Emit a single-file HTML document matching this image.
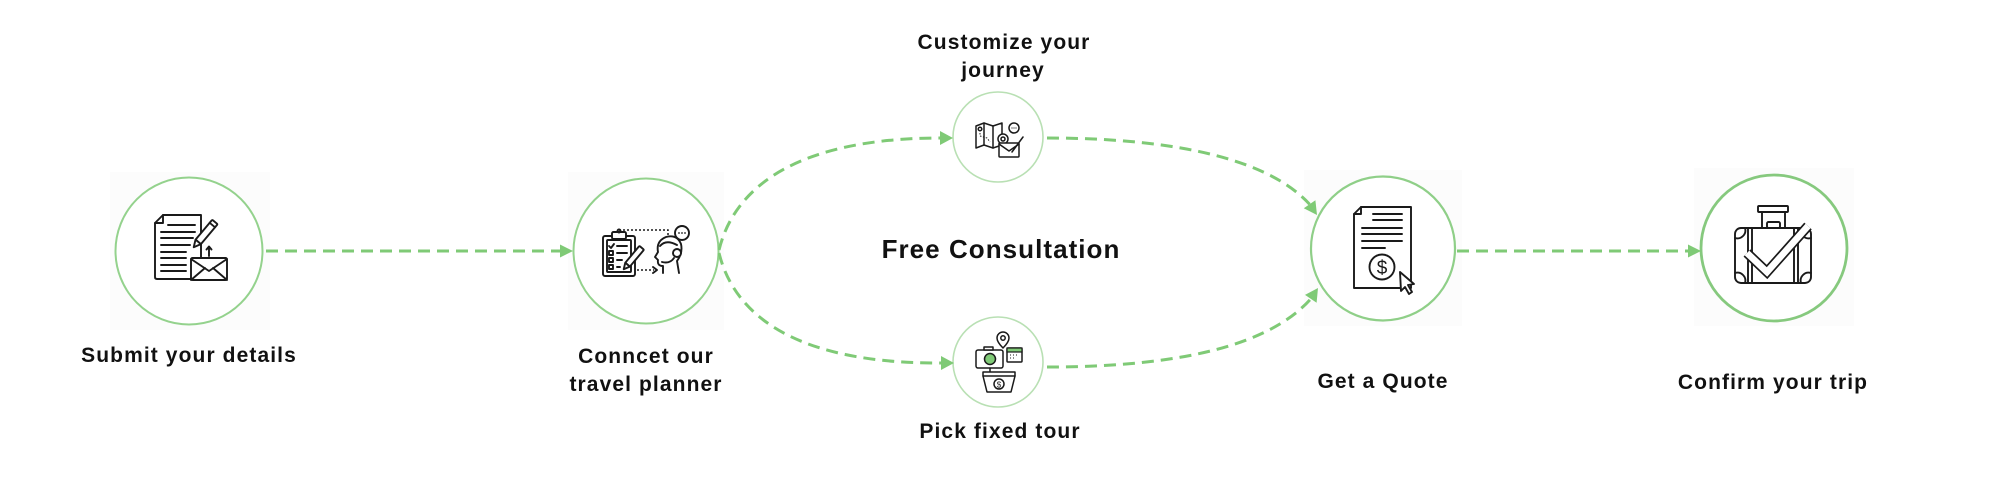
<!DOCTYPE html>
<html>
<head>
<meta charset="utf-8">
<style>
html,body{margin:0;padding:0;background:#fff;}
body{width:2000px;height:500px;overflow:hidden;}
svg{display:block;}
.lbl{font-family:"Liberation Sans",Arial,sans-serif;font-weight:bold;font-size:21px;letter-spacing:1.1px;fill:#111;}
.big{font-family:"Liberation Sans",Arial,sans-serif;font-weight:bold;font-size:26px;letter-spacing:1.05px;fill:#111;}
.ic{fill:none;stroke:#1a1a1a;stroke-width:1.9;stroke-linecap:round;stroke-linejoin:round;}
.icw{fill:#fff;stroke:#1a1a1a;stroke-width:1.9;stroke-linecap:round;stroke-linejoin:round;}
.sm .ic,.sm .icw{stroke-width:1.5;}
.dash{fill:none;stroke:#7fca76;stroke-width:3;stroke-dasharray:12 7;}
.ah{fill:#7fca76;}
</style>
</head>
<body>
<svg width="2000" height="500" viewBox="0 0 2000 500" xmlns="http://www.w3.org/2000/svg">
  <!-- faint backgrounds behind icons -->
  <rect x="110" y="172" width="160" height="158" fill="#fcfcfc"/>
  <rect x="568" y="172" width="156" height="158" fill="#fcfcfc"/>
  <rect x="1304" y="170" width="158" height="156" fill="#fcfcfc"/>
  <rect x="1694" y="168" width="160" height="158" fill="#fcfcfc"/>

  <!-- circles -->
  <circle cx="189" cy="251" r="73.5" fill="#fff" stroke="#94d28d" stroke-width="2"/>
  <circle cx="646" cy="251" r="72.5" fill="#fff" stroke="#94d28d" stroke-width="2"/>
  <circle cx="998" cy="137" r="45" fill="#fff" stroke="#b9e0b4" stroke-width="1.6"/>
  <circle cx="998" cy="362" r="45" fill="#fff" stroke="#b9e0b4" stroke-width="1.6"/>
  <circle cx="1383" cy="248.5" r="72" fill="#fff" stroke="#8fcf88" stroke-width="2.2"/>
  <circle cx="1774" cy="248" r="73" fill="#fff" stroke="#86c97e" stroke-width="2.8"/>

  <!-- straight arrows -->
  <line class="dash" x1="266" y1="251" x2="561" y2="251"/>
  <polygon class="ah" points="560,244.5 573,251 560,257.5"/>
  <line class="dash" x1="1457" y1="251" x2="1689" y2="251"/>
  <polygon class="ah" points="1688,244.5 1701,251 1688,257.5"/>

  <!-- curved arrows left -->
  <path class="dash" d="M719,250 C735,185 800,138 941,138"/>
  <polygon class="ah" points="940,131 953,138 940,145"/>
  <path class="dash" d="M719,253 C735,318 800,364 942,363"/>
  <polygon class="ah" points="941,356 954,363 941,370"/>

  <!-- curved arrows right -->
  <path class="dash" d="M1047,138 C1150,138 1262,152 1309.6,204.3"/>
  <polygon class="ah" points="1303.8,208.3 1317,215 1315.4,200.3"/>
  <path class="dash" d="M1047,367 C1150,367 1262,354 1310.8,298.8"/>
  <polygon class="ah" points="1316.6,302.7 1318,288 1305,294.9"/>

  <!-- labels -->
  <text class="lbl" x="189" y="362" text-anchor="middle">Submit your details</text>
  <text class="lbl" x="646" y="363" text-anchor="middle">Conncet our</text>
  <text class="lbl" x="646" y="391" text-anchor="middle">travel planner</text>
  <text class="lbl" x="1004" y="49" text-anchor="middle">Customize your</text>
  <text class="lbl" x="1003" y="77" text-anchor="middle">journey</text>
  <text class="lbl" x="1000" y="438" text-anchor="middle">Pick fixed tour</text>
  <text class="lbl" x="1383" y="388" text-anchor="middle">Get a Quote</text>
  <text class="lbl" x="1773" y="389" text-anchor="middle">Confirm your trip</text>
  <text class="big" x="1001" y="258" text-anchor="middle">Free Consultation</text>

  <!-- ICON 1: submit details -->
  <g>
    <path class="icw" d="M163,215 L201,215 L201,279 L157,279 Q155,279 155,277 L155,223 Z"/>
    <path class="ic" d="M155,223 L163,223 L163,215"/>
    <line class="ic" x1="168" y1="225" x2="195" y2="225"/>
    <line class="ic" x1="161" y1="232" x2="195" y2="232"/>
    <line class="ic" x1="161" y1="238" x2="193" y2="238"/>
    <line class="ic" x1="161" y1="245" x2="190" y2="245"/>
    <line class="ic" x1="161" y1="252" x2="186" y2="252"/>
    <line class="ic" x1="161" y1="258" x2="186" y2="258"/>
    <line class="ic" x1="161" y1="265" x2="186" y2="265"/>
    <line class="ic" x1="161" y1="271" x2="186" y2="271"/>
    <!-- pencil -->
    <g transform="rotate(40 204 235)">
      <rect class="icw" x="200.5" y="218" width="7" height="26" rx="1"/>
      <path class="icw" d="M200.5,244 L204,251 L207.5,244 Z"/>
      <line class="ic" x1="200.5" y1="222" x2="207.5" y2="222"/>
    </g>
    <!-- up arrow -->
    <line class="ic" x1="209" y1="256" x2="209" y2="247"/>
    <path class="ic" d="M206.5,249.5 L209,246.5 L211.5,249.5"/>
    <!-- envelope -->
    <rect class="icw" x="191" y="258" width="36" height="22" rx="1.5"/>
    <path class="ic" d="M191,259 L209,271 L227,259 M191,280 L205,268 M227,280 L213,268"/>
  </g>

  <!-- ICON 2: connect planner -->
  <g>
    <rect class="icw" x="603" y="236" width="32" height="40" rx="2"/>
    <rect class="ic" x="607" y="240" width="24" height="32" rx="1"/>
    <rect class="icw" x="612" y="232" width="14" height="7" rx="1.5"/>
    <circle class="ic" cx="619" cy="231" r="1.5"/>
    <path class="ic" d="M609,246 L611,248 L614,244"/>
    <line class="ic" x1="617" y1="246" x2="627" y2="246"/>
    <rect class="ic" x="609" y="251" width="4" height="4"/>
    <line class="ic" x1="617" y1="253" x2="627" y2="253"/>
    <rect class="ic" x="609" y="258" width="4" height="4"/>
    <line class="ic" x1="617" y1="260" x2="622" y2="260"/>
    <rect class="ic" x="609" y="265" width="4" height="4"/>
    <line class="ic" x1="617" y1="267" x2="620" y2="267"/>
    <g transform="rotate(40 634 257)">
      <rect class="icw" x="631" y="245" width="6" height="22" rx="1"/>
      <path class="icw" d="M631,267 L634,273 L637,267 Z"/>
    </g>
    <!-- dotted lines -->
    <path d="M619,230 L668,230 L668,236" fill="none" stroke="#1a1a1a" stroke-width="1.5" stroke-dasharray="2 2"/>
    <line x1="637" y1="270" x2="654" y2="270" stroke="#1a1a1a" stroke-width="1.5" stroke-dasharray="2 2"/>
    <path class="ic" d="M653,267 L657,270 L653,273"/>
    <!-- head -->
    <path class="ic" d="M663,273 L663,266 Q657,266 658,260 L655,257 L658,252 Q656,241 666,237 Q677,234 681,244 Q683,253 677,261 L679,273"/>
    <path class="ic" d="M660,246 Q666,239 677,245"/>
    <circle class="icw" cx="677" cy="253" r="4"/>
    <path class="ic" d="M674,258 Q670,264 662,262"/>
    <!-- speech bubble -->
    <circle class="icw" cx="682" cy="233" r="7"/>
    <circle cx="679" cy="233" r="0.9" fill="#1a1a1a"/>
    <circle cx="682" cy="233" r="0.9" fill="#1a1a1a"/>
    <circle cx="685" cy="233" r="0.9" fill="#1a1a1a"/>
  </g>

  <!-- ICON 3: customize journey -->
  <g class="sm">
    <path class="icw" d="M976,126 L984,123 L993,126 L1002,123 L1002,145 L993,148 L984,145 L976,148 Z"/>
    <line class="ic" x1="984" y1="123" x2="984" y2="145"/>
    <line class="ic" x1="993" y1="126" x2="993" y2="148"/>
    <path d="M980,130 L980,136 L987,138 L990,142" fill="none" stroke="#1a1a1a" stroke-width="1" stroke-dasharray="1.5 1.5"/>
    <circle class="ic" cx="980" cy="129" r="1.8"/>
    <circle class="icw" cx="1003" cy="139" r="5"/>
    <circle class="ic" cx="1003" cy="139" r="2"/>
    <circle class="icw" cx="1014" cy="128" r="5"/>
    <circle cx="1012" cy="128" r="0.6" fill="#1a1a1a"/>
    <circle cx="1014" cy="128" r="0.6" fill="#1a1a1a"/>
    <circle cx="1016" cy="128" r="0.6" fill="#1a1a1a"/>
    <rect class="icw" x="999" y="143" width="20" height="14" rx="1"/>
    <path class="ic" d="M999,144 L1009,151 L1019,144"/>
    <line class="ic" x1="1023" y1="137" x2="1012" y2="152"/>
  </g>

  <!-- ICON 4: pick fixed tour -->
  <g class="sm">
    <path class="icw" d="M1003,348 Q997,342 997,338 A6,6 0 1 1 1009,338 Q1009,342 1003,348 Z"/>
    <circle class="ic" cx="1003" cy="338" r="2.2"/>
    <rect class="icw" x="976" y="350" width="27" height="18" rx="2"/>
    <rect class="icw" x="984" y="347" width="9" height="3"/>
    <circle cx="990" cy="359" r="5.5" fill="#7fca76" stroke="#1a1a1a" stroke-width="1.5"/>
    <rect class="icw" x="1007" y="348" width="15" height="14" rx="1"/>
    <rect x="1007" y="348" width="15" height="4" fill="#7fca76" stroke="#1a1a1a" stroke-width="1.2"/>
    <path d="M1010,355 h1 M1013,355 h1 M1016,355 h1 M1010,358 h1 M1013,358 h1" stroke="#1a1a1a" stroke-width="1"/>
    <line class="ic" x1="990" y1="368" x2="990" y2="372"/>
    <path class="icw" d="M983,372 L1015,372 L1015,376 L1011,392 L987,392 L983,376 Z"/>
    <line class="ic" x1="983" y1="376" x2="1015" y2="376"/>
    <circle class="icw" cx="999" cy="384" r="5"/>
    <text x="999" y="387.5" text-anchor="middle" font-family="Liberation Sans,sans-serif" font-size="8" fill="#1a1a1a">$</text>
  </g>

  <!-- ICON 5: get quote -->
  <g>
    <path class="icw" d="M1361,207 L1411,207 L1411,288 L1354,288 L1354,214 Z"/>
    <path class="ic" d="M1354,214 L1361,214 L1361,207"/>
    <line class="ic" x1="1373" y1="214" x2="1402" y2="214"/>
    <line class="ic" x1="1373" y1="220" x2="1402" y2="220"/>
    <line class="ic" x1="1362" y1="228" x2="1402" y2="228"/>
    <line class="ic" x1="1362" y1="234" x2="1402" y2="234"/>
    <line class="ic" x1="1362" y1="241" x2="1402" y2="241"/>
    <line class="ic" x1="1362" y1="248" x2="1385" y2="248"/>
    <circle class="icw" cx="1382" cy="267" r="12.5"/>
    <text x="1382" y="274" text-anchor="middle" font-family="Liberation Sans,sans-serif" font-size="19" fill="#1a1a1a">$</text>
    <path class="icw" d="M1400,272 L1401,291 L1405,287 L1409,294 L1412,292 L1408,285 L1414,284 Z"/>
  </g>

  <!-- ICON 6: confirm trip -->
  <g>
    <rect class="icw" x="1758" y="206" width="30" height="6" rx="1"/>
    <line class="ic" x1="1762" y1="212" x2="1762" y2="228"/>
    <line class="ic" x1="1785" y1="212" x2="1785" y2="228"/>
    <rect class="ic" x="1767" y="222" width="13" height="6" rx="1.5"/>
    <rect class="icw" x="1735" y="228" width="76" height="55" rx="6"/>
    <path class="ic" d="M1735,238 A8,8 0 0 0 1745,228 M1811,238 A8,8 0 0 1 1801,228 M1735,273 A8,8 0 0 1 1745,283 M1811,273 A8,8 0 0 0 1801,283"/>
    <line class="ic" x1="1748" y1="228" x2="1748" y2="283"/>
    <line class="ic" x1="1752" y1="228" x2="1752" y2="283"/>
    <line class="ic" x1="1794" y1="228" x2="1794" y2="283"/>
    <line class="ic" x1="1798" y1="228" x2="1798" y2="283"/>
    <polyline points="1747,253 1767,272 1808,226" fill="none" stroke="#1a1a1a" stroke-width="10" stroke-linejoin="miter"/>
    <polyline points="1747,253 1767,272 1808,226" fill="none" stroke="#fff" stroke-width="6.6" stroke-linejoin="miter"/>
  </g>
</svg>
</body>
</html>
